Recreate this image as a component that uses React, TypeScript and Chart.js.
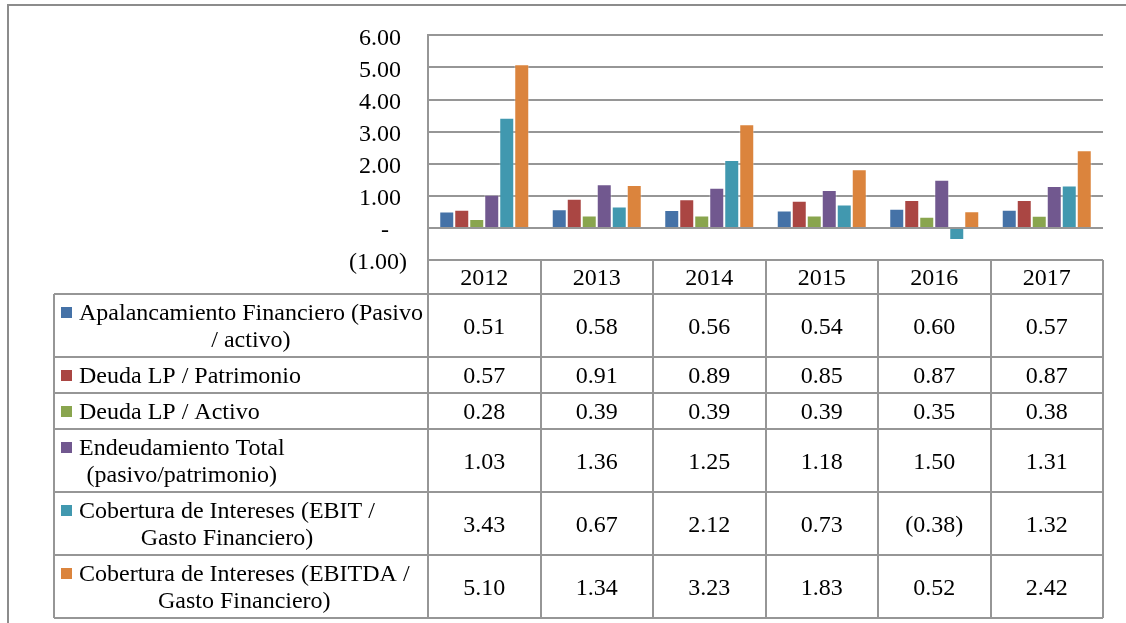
import React, { useEffect, useRef } from "react";
import { Chart, registerables } from "chart.js";

Chart.register(...registerables);

// Years shown on the category axis and in the table header
const years = ["2012", "2013", "2014", "2015", "2016", "2017"];

// Ratio series, one value per year
const apalancamiento = [0.51, 0.58, 0.56, 0.54, 0.6, 0.57];
const deudaLpPatrimonio = [0.57, 0.91, 0.89, 0.85, 0.87, 0.87];
const deudaLpActivo = [0.28, 0.39, 0.39, 0.39, 0.35, 0.38];
const endeudamientoTotal = [1.03, 1.36, 1.25, 1.18, 1.5, 1.31];
const coberturaEbit = [3.43, 0.67, 2.12, 0.73, -0.38, 1.32];
const coberturaEbitda = [5.1, 1.34, 3.23, 1.83, 0.52, 2.42];

// Series labels as they wrap in the data table
const seriesLabels = [
  ["Apalancamiento Financiero (Pasivo", "/ activo)"],
  ["Deuda LP / Patrimonio"],
  ["Deuda LP / Activo"],
  ["Endeudamiento Total", "(pasivo/patrimonio)"],
  ["Cobertura de Intereses (EBIT /", "Gasto Financiero)"],
  ["Cobertura de Intereses (EBITDA /", "Gasto Financiero)"],
];

const seriesColors = ["#4572A7", "#AA4643", "#89A54E", "#71588F", "#4198AF", "#DB843D"];

// Y axis range and tick step
const yMin = -1;
const yMax = 6;
const yStep = 1;

const FONT = "'Liberation Serif', 'DejaVu Serif', serif";
const LINE = "#969696";

const fmt = (v: number) => (v < 0 ? `(${Math.abs(v).toFixed(2)})` : v.toFixed(2));

const dataTablePlugin = {
  id: "dataTable",
  afterDraw(chart: any) {
    const { ctx, chartArea } = chart;
    const { left, right, bottom } = chartArea;
    const n = years.length;
    const colW = (right - left) / n;
    const labelLeft = 54;
    const headerH = 34;
    const rowHeights = seriesLabels.map((l) => (l.length > 1 ? 63 : 35.5));
    const lineGap = 27;

    ctx.save();

    // outer frame
    ctx.strokeStyle = "#8c8c8c";
    ctx.lineWidth = 2;
    ctx.beginPath();
    ctx.moveTo(8, 623);
    ctx.lineTo(8, 5);
    ctx.lineTo(1126, 5);
    ctx.stroke();

    ctx.strokeStyle = LINE;
    ctx.lineWidth = 2;

    const headerTop = bottom;
    const bodyTop = Math.round(headerTop + headerH);
    const rowTops: number[] = [bodyTop];
    rowHeights.forEach((h, i) => rowTops.push(Math.round(rowTops[i] + h)));
    const tableBottom = rowTops[rowTops.length - 1];

    // vertical lines
    ctx.beginPath();
    for (let i = 0; i <= n; i++) {
      const x = Math.round(left + i * colW);
      ctx.moveTo(x, headerTop);
      ctx.lineTo(x, tableBottom);
    }
    ctx.moveTo(labelLeft, bodyTop);
    ctx.lineTo(labelLeft, tableBottom);
    // horizontal lines
    rowTops.forEach((y) => {
      ctx.moveTo(labelLeft, y);
      ctx.lineTo(right, y);
    });
    ctx.stroke();

    ctx.fillStyle = "#000";
    ctx.font = `24px ${FONT}`;
    ctx.textBaseline = "middle";
    ctx.textAlign = "center";

    // header years
    const headerMid = headerTop + headerH / 2 + 2;
    years.forEach((y, i) => {
      ctx.fillText(y, chart.scales.x.getPixelForValue(i), headerMid);
    });

    const datasets = chart.data.datasets;
    seriesLabels.forEach((lines, r) => {
      const top = rowTops[r];
      const mid = top + rowHeights[r] / 2 + 2;
      // values
      datasets[r].data.forEach((v: number, i: number) => {
        ctx.fillStyle = "#000";
        ctx.textAlign = "center";
        ctx.fillText(fmt(v), chart.scales.x.getPixelForValue(i), mid);
      });
      // legend key + label
      const firstY = mid - ((lines.length - 1) * lineGap) / 2;
      ctx.fillStyle = seriesColors[r];
      ctx.fillRect(61, Math.round(firstY - 7), 11, 11);
      const widths = lines.map((t) => ctx.measureText(t).width);
      const blockW = Math.max(...widths);
      const cx = 79 + blockW / 2;
      ctx.fillStyle = "#000";
      lines.forEach((t, k) => {
        ctx.fillText(t, cx, firstY + k * lineGap);
      });
    });

    ctx.restore();
  },
};

export default function App() {
  const canvasRef = useRef<HTMLCanvasElement | null>(null);

  useEffect(() => {
    const canvas = canvasRef.current;
    if (!canvas) return;
    const series = [
      apalancamiento,
      deudaLpPatrimonio,
      deudaLpActivo,
      endeudamientoTotal,
      coberturaEbit,
      coberturaEbitda,
    ];
    const chart = new Chart(canvas, {
      type: "bar",
      data: {
        labels: years,
        datasets: series.map((d, i) => ({
          label: seriesLabels[i].join(" "),
          data: d,
          backgroundColor: seriesColors[i],
          borderColor: "rgba(255,255,255,0.35)",
          borderWidth: 1,
          categoryPercentage: 0.8,
          barPercentage: 1,
        })),
      },
      options: {
        responsive: false,
        animation: false,
        events: [],
        layout: { padding: { left: 0, right: 23, top: 35, bottom: 363 } },
        plugins: {
          legend: { display: false },
          tooltip: { enabled: false },
          title: { display: false },
        },
        scales: {
          x: { display: false, grid: { display: false } },
          y: {
            min: yMin,
            max: yMax,
            afterFit: (s: any) => {
              s.width = 428;
            },
            ticks: {
              stepSize: yStep,
              padding: 21,
              labelOffset: 3,
              color: "#000",
              font: { family: FONT, size: 24 },
              callback: (v: any) => {
                const n = Number(v);
                if (n === 0) return "-   ";
                if (n < 0) return fmt(n);
                return n.toFixed(2) + " ";
              },
            },
            grid: { color: LINE, lineWidth: 2, drawTicks: false },
            border: { display: true, color: LINE, width: 2 },
          },
        },
      },
      plugins: [dataTablePlugin],
    });

    // redraw once the serif face is ready
    let alive = true;
    const fonts: any = (document as any).fonts;
    if (fonts && fonts.load) {
      Promise.all([
        fonts.load("24px 'Liberation Serif'"),
        fonts.load("24px 'DejaVu Serif'"),
      ])
        .catch(() => null)
        .then(() => {
          if (alive) chart.update();
        });
    }
    return () => {
      alive = false;
      chart.destroy();
    };
  }, []);

  return (
    <div style={{ position: "fixed", left: 0, top: 0, width: 1126, height: 623, background: "#fff" }}>
      <span
        style={{ position: "absolute", left: -9999, top: 0, fontFamily: FONT, fontSize: 24 }}
      >
        2012
      </span>
      <canvas ref={canvasRef} width={1126} height={623} style={{ width: 1126, height: 623 }} />
    </div>
  );
}
